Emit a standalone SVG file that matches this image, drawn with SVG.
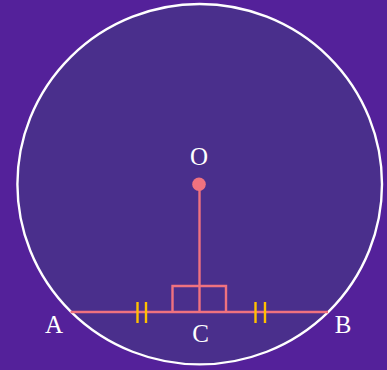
<svg xmlns="http://www.w3.org/2000/svg" width="387" height="370" viewBox="0 0 387 370">
<style>
.lbl{font-family:"Liberation Serif","DejaVu Serif",serif;font-size:25px;fill:#ffffff;text-anchor:middle}
.seg{stroke:#f0727f;stroke-width:2.4;fill:none}
.tick{stroke:#ffc000;stroke-width:2.4}
</style>
<rect width="387" height="370" fill="#54219a"/>
<g id="circle">
<ellipse cx="199.7" cy="184.2" rx="182.3" ry="180.2" fill="#4a2f8c" stroke="#ffffff" stroke-width="2.4"/>
</g>
<g id="connectors">
<line class="seg" x1="70.5" y1="312" x2="328" y2="312"/>
<line class="seg" x1="199.5" y1="184" x2="199.5" y2="312"/>
<polyline class="seg" points="172.5,312 172.5,286 226,286 226,312"/>
<line class="tick" x1="137.5" y1="302" x2="137.5" y2="323"/>
<line class="tick" x1="146" y1="302" x2="146" y2="323"/>
<line class="tick" x1="255.5" y1="302" x2="255.5" y2="323"/>
<line class="tick" x1="265" y1="302" x2="265" y2="323"/>
</g>
<g id="O">
<circle cx="199" cy="184.3" r="6.8" fill="#f0727f"/>
<text class="lbl" x="199" y="164.5">O</text>
</g>
<g id="A"><text class="lbl" x="54" y="332.5">A</text></g>
<g id="B"><text class="lbl" x="343" y="332.5">B</text></g>
<g id="C"><text class="lbl" x="200.5" y="341.5">C</text></g>
</svg>
